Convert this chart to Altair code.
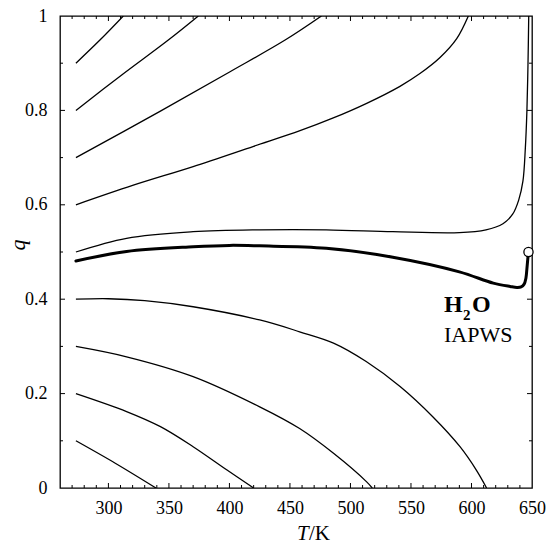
import altair as alt
import pandas as pd

# ---- curve data (T in K, q) ----
T_c01 = [273.15, 306.0, 339.3]
q_c01 = [0.100, 0.052, 0.000]

T_c02 = [273.15, 315.0, 343.0, 370.0, 398.0, 420.0]
q_c02 = [0.200, 0.162, 0.130, 0.0875, 0.038, 0.000]

T_c03 = [273.15, 315.0, 370.0, 425.0, 458.0, 486.0, 513.4, 518.0]
q_c03 = [0.300, 0.278, 0.236, 0.172, 0.126, 0.0735, 0.013, 0.000]

T_c04 = [273.15, 300.0, 330.0, 370.0, 425.0, 458.0, 486.0, 513.0, 541.0, 568.0, 590.5, 604.0, 612.5]
q_c04 = [0.400, 0.401, 0.397, 0.384, 0.356, 0.331, 0.307, 0.268, 0.215, 0.151, 0.0875, 0.038, 0.000]

T_c05 = [273.15, 315.0, 370.0, 425.0, 480.0, 535.0, 590.0, 612.0, 626.0, 634.0, 639.0, 642.5, 644.5, 645.8, 646.7, 647.3]
q_c05 = [0.500, 0.529, 0.543, 0.547, 0.547, 0.543, 0.541, 0.547, 0.560, 0.580, 0.610, 0.650, 0.720, 0.800, 0.900, 1.000]

T_c06 = [273.15, 320.0, 370.0, 420.0, 458.3, 485.8, 513.4, 540.9, 557.4, 574.0, 587.8, 597.4]
q_c06 = [0.600, 0.641, 0.681, 0.724, 0.757, 0.784, 0.815, 0.851, 0.878, 0.912, 0.952, 1.000]

T_c07 = [273.15, 342.6, 400.5, 446.0, 476.0]
q_c07 = [0.700, 0.798, 0.882, 0.949, 1.000]

T_c08 = [273.15, 311.0, 349.5, 374.3]
q_c08 = [0.800, 0.875, 0.949, 1.000]

T_c09 = [273.15, 293.0, 312.3]
q_c09 = [0.900, 0.949, 1.000]

# thick curve (ends at the critical point)
T_thick = [273.15, 315.0, 370.0, 400.0, 425.0, 480.0, 535.0, 590.0, 618.0, 632.0, 637.5,
           641.0, 643.5, 645.0, 645.8, 646.5, 647.1]
q_thick = [0.481, 0.501, 0.511, 0.514, 0.513, 0.508, 0.489, 0.458, 0.434, 0.427, 0.425,
           0.426, 0.432, 0.445, 0.465, 0.485, 0.500]

T_crit = [647.1]
q_crit = [0.5]

# axis tick values
x_label_values = [300, 350, 400, 450, 500, 550, 600, 650]
y_label_values = [0.0, 0.2, 0.4, 0.6, 0.8, 1.0]
x_major_ticks = [300, 350, 400, 450, 500, 550, 600]
x_minor_ticks = [270, 280, 290, 310, 320, 330, 340, 360, 370, 380, 390, 410, 420, 430, 440,
                 460, 470, 480, 490, 510, 520, 530, 540, 560, 570, 580, 590, 610, 620, 630, 640]
y_major_ticks = [0.2, 0.4, 0.6, 0.8]
y_minor_ticks = [0.1, 0.3, 0.5, 0.7, 0.9]

# ---- build tables ----
thin_curves = [
    ("c01", T_c01, q_c01), ("c02", T_c02, q_c02), ("c03", T_c03, q_c03),
    ("c04", T_c04, q_c04), ("c05", T_c05, q_c05), ("c06", T_c06, q_c06),
    ("c07", T_c07, q_c07), ("c08", T_c08, q_c08), ("c09", T_c09, q_c09),
]
rows = []
for name, Ts, qs in thin_curves:
    for i, (t, q) in enumerate(zip(Ts, qs)):
        rows.append({"curve": name, "i": i, "T": t, "q": q})
thin_df = pd.DataFrame(rows)
thick_df = pd.DataFrame({"i": range(len(T_thick)), "T": T_thick, "q": q_thick})
crit_df = pd.DataFrame({"T": T_crit, "q": q_crit})

W, H = 472, 472
FONT = "Liberation Serif"
xs = alt.Scale(domain=[260, 650], nice=False, zero=False)
ys = alt.Scale(domain=[0, 1], nice=False, zero=False)

x_axis = alt.Axis(values=x_label_values, ticks=False, domain=False, grid=False,
                  labelFont=FONT, labelFontSize=18, labelColor="black", labelPadding=11,
                  labelFlush=False, labelOverlap=False, title=None)
y_axis = alt.Axis(values=y_label_values, ticks=False, domain=False, grid=False,
                  labelFont=FONT, labelFontSize=18, labelColor="black", labelPadding=13,
                  labelOverlap=False, title=None,
                  labelExpr="datum.value == 0 ? '0' : (datum.value == 1 ? '1' : format(datum.value, '.1f'))")

X = lambda: alt.X("T:Q", scale=xs, axis=x_axis)
Y = lambda: alt.Y("q:Q", scale=ys, axis=y_axis)

thin = alt.Chart(thin_df).mark_line(color="black", strokeWidth=1.3, interpolate="catmull-rom", clip=True).encode(
    x=X(), y=Y(), detail="curve:N", order="i:Q",
)
thick = alt.Chart(thick_df).mark_line(color="black", strokeWidth=3, interpolate="catmull-rom", clip=True,
                                      strokeCap="round", strokeJoin="round").encode(
    x=X(), y=Y(), order="i:Q",
)
crit = alt.Chart(crit_df).mark_point(shape="circle", size=85, filled=True, fill="white",
                                     stroke="black", strokeWidth=1.3, opacity=1).encode(
    x=X(), y=Y(),
)

def xticks(vals, length, top):
    df = pd.DataFrame({"T": vals})
    y0, y1 = (0, length) if top else (H, H - length)
    return alt.Chart(df).mark_rule(color="black", strokeWidth=1).encode(
        x=X(), y=alt.value(y0), y2=alt.value(y1))

def yticks(vals, length, right):
    df = pd.DataFrame({"q": vals})
    x0, x1 = (W, W - length) if right else (0, length)
    return alt.Chart(df).mark_rule(color="black", strokeWidth=1).encode(
        y=Y(), x=alt.value(x0), x2=alt.value(x1))

ticks = [
    xticks(x_major_ticks, 5, False), xticks(x_minor_ticks, 3, False),
    xticks(x_major_ticks, 5, True), xticks(x_minor_ticks, 3, True),
    yticks(y_major_ticks, 5, False), yticks(y_minor_ticks, 3, False),
    yticks(y_major_ticks, 5, True), yticks(y_minor_ticks, 3, True),
]

def label(text, x, y, size, weight="normal", style="normal", align="left", angle=0, baseline="alphabetic"):
    df = pd.DataFrame({"t": [text]})
    kw = dict(font=FONT, fontSize=size, fontWeight=weight, fontStyle=style, align=align,
              baseline=baseline, color="black")
    if angle:
        kw["angle"] = angle
    return alt.Chart(df).mark_text(**kw).encode(text="t:N", x=alt.value(x), y=alt.value(y))

texts = [
    label("H", 384, 295.5, 24, weight="bold"),
    label("2", 403, 304, 15, weight="bold"),
    label("O", 412, 295.5, 24, weight="bold"),
    label("IAPWS", 384, 325.5, 22),
    label("T", 237, 524, 21, style="italic"),
    label("/K", 249, 524, 21),
    label("q", -42, 229, 22, style="italic", align="center", angle=270, baseline="middle"),
]

chart = alt.layer(thin, thick, *ticks, crit, *texts).properties(
    width=W, height=H,
    autosize=alt.AutoSizeParams(type="none"),
    padding={"left": 60, "top": 16, "right": 16, "bottom": 57},
    background="white",
).configure_view(stroke="black", strokeWidth=1.3).configure_axis(
    labelFont=FONT, labelFontSize=18, labelColor="black"
)

chart.save("out.html", embed_options={"renderer": "svg", "actions": False})
